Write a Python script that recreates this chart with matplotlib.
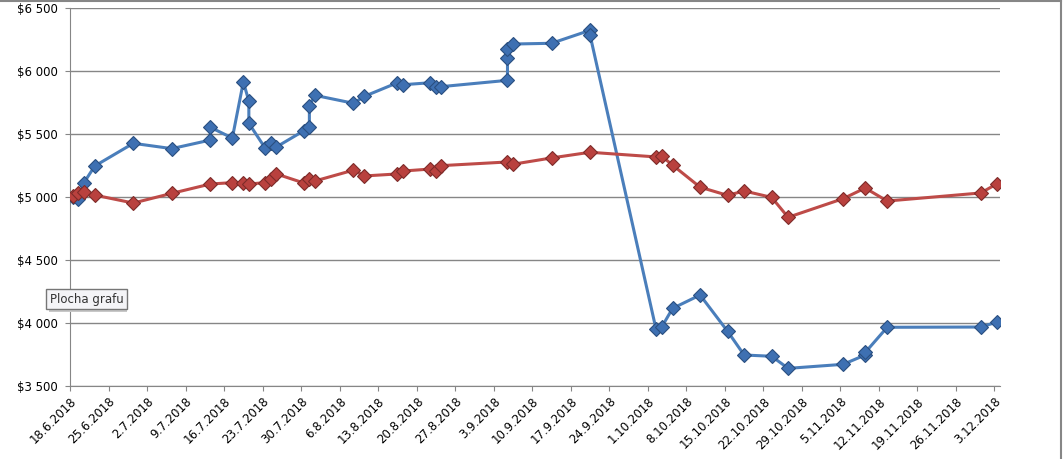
import datetime as dt
import matplotlib
matplotlib.use("Agg")
import matplotlib.pyplot as plt
from matplotlib.lines import Line2D
from matplotlib.patches import Rectangle

# portfolio (blue) - several values on one day give the vertical jumps
blue_dates = ["18.6", "19.6", "20.6", "22.6", "29.6", "6.7", "13.7", "13.7", "17.7", "19.7",
              "20.7", "20.7", "23.7", "24.7", "25.7", "30.7", "31.7", "31.7", "1.8", "8.8",
              "10.8", "16.8", "17.8", "22.8", "23.8", "24.8", "5.9", "5.9", "5.9", "6.9",
              "13.9", "20.9", "20.9", "2.10", "3.10", "5.10", "10.10", "15.10", "18.10", "23.10",
              "26.10", "5.11", "9.11", "9.11", "13.11", "30.11", "3.12"]
blue_vals = [5000, 4985, 5111, 5246, 5426, 5384, 5452, 5553, 5468, 5913,
             5762, 5585, 5386, 5431, 5397, 5526, 5558, 5722, 5807, 5744,
             5799, 5907, 5891, 5907, 5870, 5876, 5926, 6101, 6172, 6214,
             6220, 6323, 6286, 3950, 3966, 4116, 4222, 3934, 3746, 3736,
             3640, 3672, 3746, 3766, 3966, 3968, 4008]

# benchmark (red)
red_dates = ["18.6", "19.6", "20.6", "22.6", "29.6", "6.7", "13.7", "17.7", "19.7", "20.7",
             "23.7", "24.7", "25.7", "30.7", "31.7", "1.8", "8.8", "10.8", "16.8", "17.8",
             "22.8", "23.8", "24.8", "5.9", "6.9", "13.9", "20.9", "2.10", "3.10", "5.10",
             "10.10", "15.10", "18.10", "23.10", "26.10", "5.11", "9.11", "13.11", "30.11", "3.12"]
red_vals = [5005, 5034, 5042, 5015, 4952, 5029, 5103, 5114, 5111, 5103,
            5114, 5143, 5183, 5111, 5140, 5127, 5213, 5167, 5183, 5206,
            5222, 5209, 5249, 5278, 5260, 5310, 5355, 5318, 5325, 5253,
            5078, 5013, 5048, 4997, 4839, 4987, 5071, 4968, 5032, 5106]

y_ticks = [3500, 4000, 4500, 5000, 5500, 6000, 6500]
x_start, x_end = "18.6", "3.12"


def to_date(s):
    d, m = s.split(".")
    return dt.datetime(2018, int(m), int(d))


def mid_day(lst):
    # excel date axis puts each day in the middle of its slot
    return [to_date(s) + dt.timedelta(hours=12) for s in lst]


fig = plt.figure(figsize=(10.63, 4.59), dpi=100)
ax = fig.add_axes([70 / 1063, 1 - 386 / 459, 930 / 1063, 378 / 459])

ax.plot(mid_day(blue_dates), blue_vals, color="#4a7ebb", lw=2.2, marker="D", ms=7,
        mfc="#3e70b2", mec="#2a4f80", mew=0.8, zorder=3)
ax.plot(mid_day(red_dates), red_vals, color="#be4b48", lw=2.2, marker="D", ms=7,
        mfc="#b9413e", mec="#7e2b29", mew=0.8, zorder=4)

d0, d1 = to_date(x_start), to_date(x_end)
ax.set_xlim(d0, d1 + dt.timedelta(days=1))
ax.set_ylim(y_ticks[0], y_ticks[-1])

weeks = [d0 + dt.timedelta(days=7 * i) for i in range((d1 - d0).days // 7 + 1)]
ax.set_xticks(weeks)
ax.set_xticklabels([f"{w.day}.{w.month}.{w.year}" for w in weeks], rotation=45,
                   ha="right", rotation_mode="anchor", fontsize=8.5)
ax.set_yticks(y_ticks)
ax.set_yticklabels(["$" + f"{v:,}".replace(",", " ") for v in y_ticks], fontsize=8.5)

ax.grid(axis="y", color="#868686", lw=1)
ax.set_axisbelow(True)
for side in ["top", "right"]:
    ax.spines[side].set_visible(False)
for side in ["left", "bottom"]:
    ax.spines[side].set_color("#868686")
ax.tick_params(axis="both", color="#868686", length=3.5, pad=3)
ax.tick_params(axis="y", pad=5)

# chart area border (top and right visible)
fig.add_artist(Line2D([0, 1061 / 1063], [1 - 1 / 459, 1 - 1 / 459], color="#868686", lw=1.5))
fig.add_artist(Line2D([1061 / 1063, 1061 / 1063], [0, 1], color="#868686", lw=1.5))

# hover tooltip with a soft shadow
fig.add_artist(Rectangle((49 / 1063, 1 - 312 / 459), 78 / 1063, 20 / 459,
                         transform=fig.transFigure, fc="#c8c8c8", ec="none", zorder=9))
fig.text(50 / 1063, 1 - 299 / 459, "Plocha grafu", fontsize=8.5, va="center", ha="left",
         color="#333333", zorder=10,
         bbox=dict(boxstyle="square,pad=0.3", fc="#f4f4f7", ec="#767676", lw=1))

fig.savefig("out.png", dpi=100)
